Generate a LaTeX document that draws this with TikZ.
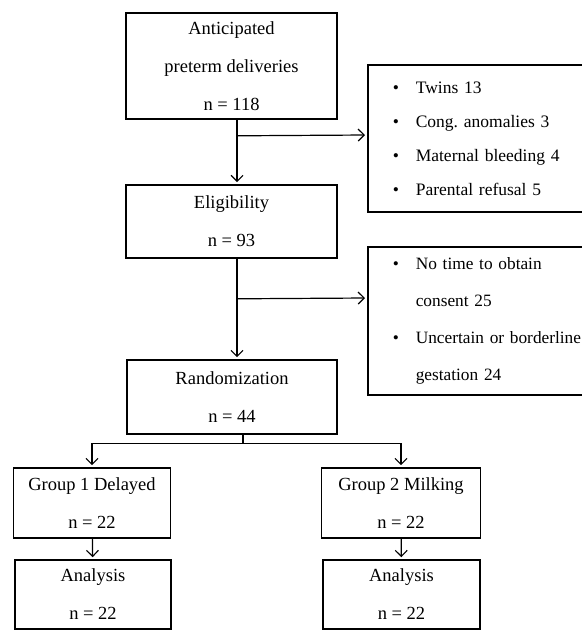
\documentclass[tikz,border=0pt]{standalone}
\usepackage{fontspec}
\setmainfont{Liberation Serif}
\usetikzlibrary{arrows.meta,positioning}

\newcommand{\bul}{\makebox[23pt][l]{\textbullet}}
\frenchspacing

\begin{document}
\begin{tikzpicture}[
  x=1pt,y=-1pt,
  box/.style={draw,line width=1.6pt,align=center,inner sep=0pt,font=\fontsize{18.5}{38}\selectfont},
  list/.style={draw,line width=1.6pt,align=left,anchor=west,inner xsep=25pt,inner ysep=0pt,text width=220pt},
  arr/.style={-{Straight Barb[length=6pt,width=12pt]},line width=1.2pt,shorten >=2pt}
]
\useasboundingbox (0,0) rectangle (581,631);

\node[box, minimum width=211pt, minimum height=106pt] (antic) at (231.5,66) {Anticipated\\preterm deliveries\\n = 118};
\node[box, minimum width=211pt, minimum height=73pt] (elig) at (231.5,221.5) {Eligibility\\n = 93};
\node[box, minimum width=210pt, minimum height=74pt] (rand) at (232,397) {Randomization\\n = 44};
\node[box, minimum width=157pt, minimum height=70pt] (grpA) at (92,503) {Group 1 Delayed\\n = 22};
\node[box, minimum width=159pt, minimum height=70pt] (grpB) at (401,503) {Group 2 Milking\\n = 22};
\node[box, minimum width=156pt, minimum height=69pt] (anaA) at (93,594.5) {Analysis\\n = 22};
\node[box, minimum width=157pt, minimum height=69pt] (anaB) at (401.5,594.5) {Analysis\\n = 22};

\node[list, minimum height=147pt, font=\fontsize{17.5}{34}\selectfont] (excl1) at (367,138.5)
  {\bul Twins 13\\\bul Cong. anomalies 3\\\bul Maternal bleeding 4\\\bul Parental refusal 5};
\node[list, minimum height=148pt, font=\fontsize{17.3}{37}\selectfont] (excl2) at (367,321)
  {\bul No time to obtain\\\hspace*{23pt}consent 25\\\bul Uncertain or borderline\\\hspace*{23pt}gestation 24};

% main flow
\draw[arr] ([xshift=5.5pt]antic.south) -- ([xshift=5.5pt]elig.north);
\draw[arr] ([xshift=5.5pt,yshift=-16pt]antic.south) -- ([yshift=3.5pt]excl1.west);
\draw[arr] ([xshift=5.5pt]elig.south) -- ([xshift=5pt]rand.north);
\draw[arr] ([xshift=5.5pt,yshift=-40pt]elig.south) -- ([yshift=23pt]excl2.west);

% split into the two groups
\coordinate (br) at ([xshift=11pt,yshift=-9pt]rand.south);
\draw[line width=1.2pt] ([xshift=11pt]rand.south) -- (br);
\draw[arr] (br) -| (grpA.north);
\draw[arr] (br) -| (grpB.north);
\draw[arr] (grpA) -- (anaA);
\draw[arr] (grpB) -- (anaB);
\end{tikzpicture}
\end{document}
